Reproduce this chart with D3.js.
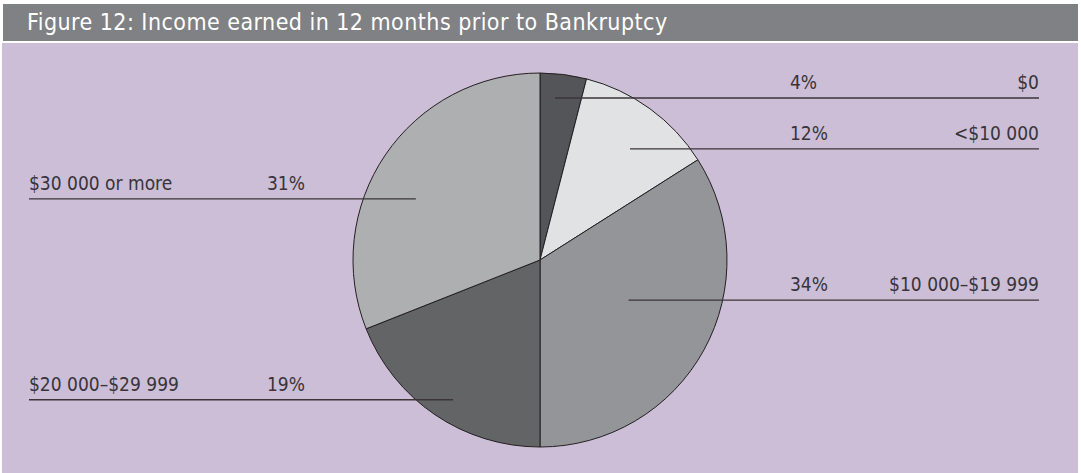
<!DOCTYPE html>
<html>
<head>
<meta charset="utf-8">
<script src="https://cdn.jsdelivr.net/npm/d3@7"></script>
<style>
  html, body { margin: 0; padding: 0; background: #fff; }
  svg { display: block; }
</style>
</head>
<body>
<svg id="chart"></svg>
<script>
// data, clockwise from 12 o'clock
const categories = ["$0", "<$10 000", "$10 000–$19 999", "$20 000–$29 999", "$30 000 or more"];
const shares = [4, 12, 34, 19, 31];
const fills = ["#545558", "#e1e2e4", "#939598", "#636466", "#aeafb1"];
const title = "Figure 12: Income earned in 12 months prior to Bankruptcy";

const width = 1081, height = 473;
const cx = 540, cy = 260, R = 187;

// where each leader line starts inside its slice: [radius fraction, angle nudge in degrees]
const leaderAnchor = [[0.87, -1.9], [0.765, 3], [0.52, -4.4], [0.88, -2.3], [0.74, -8]];
const side = ["right", "right", "right", "left", "left"];

const svg = d3.select("#chart")
    .attr("width", width)
    .attr("height", height)
    .style("font-family", "'DejaVu Sans Condensed', 'DejaVu Sans', sans-serif");

// title bar
svg.append("rect").attr("x", 3).attr("y", 4).attr("width", 1075).attr("height", 37).attr("fill", "#808184");
svg.append("text")
    .attr("x", 27).attr("y", 30)
    .attr("fill", "#fff")
    .attr("font-size", 23)
    .attr("letter-spacing", 0.45)
    .text(title);

// panel
svg.append("rect").attr("x", 2).attr("y", 43).attr("width", 1076).attr("height", 430).attr("fill", "#ccbed7");

const pie = d3.pie().sort(null).value(d => d);
const arcs = pie(shares);
const arc = d3.arc().innerRadius(0).outerRadius(R);

const g = svg.append("g").attr("transform", `translate(${cx},${cy})`);

g.selectAll("path")
    .data(arcs)
    .enter().append("path")
    .attr("d", arc)
    .attr("fill", (d, i) => fills[i])
    .attr("stroke", "#231f20")
    .attr("stroke-width", 1);

// leader lines and labels
const fmt = d => d + "%";
const labels = svg.append("g").attr("fill", "#38343a").attr("font-size", 19);

arcs.forEach((d, i) => {
    const a = (d.startAngle + d.endAngle) / 2 + leaderAnchor[i][1] * Math.PI / 180;
    const r = leaderAnchor[i][0] * R;
    const ax = cx + r * Math.sin(a);
    const ay = cy - r * Math.cos(a);
    if (side[i] === "right") {
        labels.append("line")
            .attr("x1", ax).attr("y1", ay).attr("x2", 1039).attr("y2", ay)
            .attr("stroke", "#3b3538").attr("stroke-width", 1.4);
        labels.append("text").attr("x", 790).attr("y", ay - 9).text(fmt(shares[i]));
        labels.append("text").attr("x", 1039).attr("y", ay - 9).attr("text-anchor", "end").text(categories[i]);
    } else {
        labels.append("line")
            .attr("x1", 29).attr("y1", ay).attr("x2", ax).attr("y2", ay)
            .attr("stroke", "#3b3538").attr("stroke-width", 1.4);
        labels.append("text").attr("x", 29).attr("y", ay - 9).text(categories[i]);
        labels.append("text").attr("x", 267).attr("y", ay - 9).text(fmt(shares[i]));
    }
});
</script>
</body>
</html>
